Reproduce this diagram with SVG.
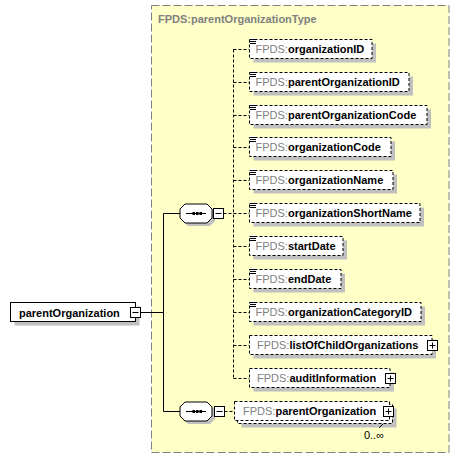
<svg xmlns="http://www.w3.org/2000/svg" width="460" height="459" viewBox="0 0 460 459">
<style>
text{font-family:"Liberation Sans",Arial,sans-serif;font-size:11px}
.b{font-weight:bold;fill:#000}
.ns{fill:#808080;font-weight:normal}
.el{fill:#fff;stroke:#000;stroke-width:1;stroke-dasharray:3,2}
.sh{fill:#c0c0c0}
.box{fill:#fff;stroke:#000;stroke-width:1}
.dash{fill:none;stroke:#000;stroke-width:1;stroke-dasharray:3,2}
.solid{fill:none;stroke:#000;stroke-width:1}
.ico{stroke:#000;stroke-width:1}
</style>
<defs>
<g id="ic"><rect x="0" y="-1" width="6" height="6" fill="#fff"/><path d="M0,0.5H6M0,2.5H6M0,4.5H6" class="ico"/></g>
<g id="plus"><rect x="0" y="0" width="10" height="10" class="box"/><path d="M2,5H8M5,2V8" class="ico"/></g>
<g id="minus"><rect x="0" y="0" width="10" height="10" class="box"/><path d="M2,5H8" class="ico"/></g>
<g id="seq">
<polygon points="8,3 30,3 35,8 35,17 30,22 8,22 3,17 3,8" class="sh"/>
<polygon points="5,0 27,0 32,5 32,14 27,19 5,19 0,14 0,5" fill="#fff" stroke="#000"/>
<path d="M6,9.5H26" class="ico"/>
<rect x="12.5" y="8" width="2.5" height="3"/><rect x="16" y="8" width="2.5" height="3"/><rect x="19.5" y="8" width="2.5" height="3"/>
</g>
</defs>

<g id="type-box">
<rect x="151.5" y="5.5" width="297.5" height="447" fill="#ffffc8" stroke="#808080" stroke-width="1" stroke-dasharray="8,3"/>
<text x="158" y="23" font-weight="bold" fill="#808080">FPDS:parentOrganizationType</text>
</g>

<g id="connectors">
<path d="M140.5,312.5H163.5M163.5,213.5V411.5M163.5,213.5H180M163.5,411.5H180" class="solid"/>
<path d="M223.5,213.5H233.5M233.5,49.5V378.5" class="dash"/>
<path d="M233.5,49.5H249.5M233.5,82.5H249.5M233.5,115.5H249.5M233.5,147.5H249.5M233.5,180.5H249.5M233.5,213.5H249.5M233.5,246.5H249.5M233.5,279.5H249.5M233.5,312.5H249.5M233.5,345.5H249.5M233.5,378.5H249.5" class="dash"/>
<path d="M224.5,411.5H234.5" class="dash"/>
</g>

<g id="root">
<rect x="14.5" y="306.5" width="125" height="19" class="sh"/>
<rect x="10.5" y="302.5" width="125" height="19" class="box"/>
<text x="19" y="316.5" class="b">parentOrganization</text>
<use href="#minus" x="130.5" y="307.5"/>
</g>

<g id="sequence1">
<use href="#seq" x="180" y="204"/>
<use href="#minus" x="213.5" y="208.5"/>
</g>

<g id="sequence2">
<use href="#seq" x="180" y="402"/>
<use href="#minus" x="214.5" y="406.5"/>
</g>

<g id="organizationID">
<rect x="253.5" y="43.5" width="122.5" height="19" class="sh"/>
<rect x="249.5" y="39.5" width="122.5" height="19" class="el"/>
<use href="#ic" x="250" y="39"/>
<text x="255.5" y="53" class="b"><tspan class="ns">FPDS:</tspan>organizationID</text>
</g>

<g id="parentOrganizationID">
<rect x="253.5" y="76.5" width="159.5" height="19" class="sh"/>
<rect x="249.5" y="72.5" width="159.5" height="19" class="el"/>
<use href="#ic" x="250" y="72"/>
<text x="255.5" y="86" class="b"><tspan class="ns">FPDS:</tspan>parentOrganizationID</text>
</g>

<g id="parentOrganizationCode">
<rect x="253.5" y="109.5" width="177.5" height="19" class="sh"/>
<rect x="249.5" y="105.5" width="177.5" height="19" class="el"/>
<use href="#ic" x="250" y="105"/>
<text x="255.5" y="119" class="b"><tspan class="ns">FPDS:</tspan>parentOrganizationCode</text>
</g>

<g id="organizationCode">
<rect x="253.5" y="141.5" width="141.5" height="19" class="sh"/>
<rect x="249.5" y="137.5" width="141.5" height="19" class="el"/>
<use href="#ic" x="250" y="137"/>
<text x="255.5" y="151" class="b"><tspan class="ns">FPDS:</tspan>organizationCode</text>
</g>

<g id="organizationName">
<rect x="253.5" y="174.5" width="143.5" height="19" class="sh"/>
<rect x="249.5" y="170.5" width="143.5" height="19" class="el"/>
<use href="#ic" x="250" y="170"/>
<text x="255.5" y="184" class="b"><tspan class="ns">FPDS:</tspan>organizationName</text>
</g>

<g id="organizationShortName">
<rect x="253.5" y="207.5" width="170.5" height="19" class="sh"/>
<rect x="249.5" y="203.5" width="170.5" height="19" class="el"/>
<use href="#ic" x="250" y="203"/>
<text x="255.5" y="217" class="b"><tspan class="ns">FPDS:</tspan>organizationShortName</text>
</g>

<g id="startDate">
<rect x="253.5" y="240.5" width="93.5" height="19" class="sh"/>
<rect x="249.5" y="236.5" width="93.5" height="19" class="el"/>
<use href="#ic" x="250" y="236"/>
<text x="255.5" y="250" class="b"><tspan class="ns">FPDS:</tspan>startDate</text>
</g>

<g id="endDate">
<rect x="253.5" y="273.5" width="91.5" height="19" class="sh"/>
<rect x="249.5" y="269.5" width="91.5" height="19" class="el"/>
<use href="#ic" x="250" y="269"/>
<text x="255.5" y="283" class="b"><tspan class="ns">FPDS:</tspan>endDate</text>
</g>

<g id="organizationCategoryID">
<rect x="253.5" y="306.5" width="171.5" height="19" class="sh"/>
<rect x="249.5" y="302.5" width="171.5" height="19" class="el"/>
<use href="#ic" x="250" y="302"/>
<text x="255.5" y="316" class="b"><tspan class="ns">FPDS:</tspan>organizationCategoryID</text>
</g>

<g id="listOfChildOrganizations">
<rect x="253.5" y="339.5" width="182.5" height="19" class="sh"/>
<rect x="249.5" y="335.5" width="182.5" height="19" class="el"/>
<text x="257" y="349" class="b"><tspan class="ns">FPDS:</tspan>listOfChildOrganizations</text>
<use href="#plus" x="427.5" y="340.5"/>
</g>

<g id="auditInformation">
<rect x="253.5" y="372.5" width="140.5" height="19" class="sh"/>
<rect x="249.5" y="368.5" width="140.5" height="19" class="el"/>
<text x="257" y="382" class="b"><tspan class="ns">FPDS:</tspan>auditInformation</text>
<use href="#plus" x="385.5" y="373.5"/>
</g>

<g id="parentOrganization-child">
<rect x="241.5" y="408.5" width="155" height="19" class="sh"/>
<rect x="237.5" y="404.5" width="155" height="19" class="el"/>
<rect x="234.5" y="401.5" width="155" height="19" class="el"/>
<text x="243" y="415" class="b"><tspan class="ns">FPDS:</tspan>parentOrganization</text>
<use href="#plus" x="383.5" y="406.5"/>
<path d="M383,424L379,428" class="solid"/>
<text x="384" y="439" text-anchor="end" fill="#000">0..∞</text>
</g>
</svg>
